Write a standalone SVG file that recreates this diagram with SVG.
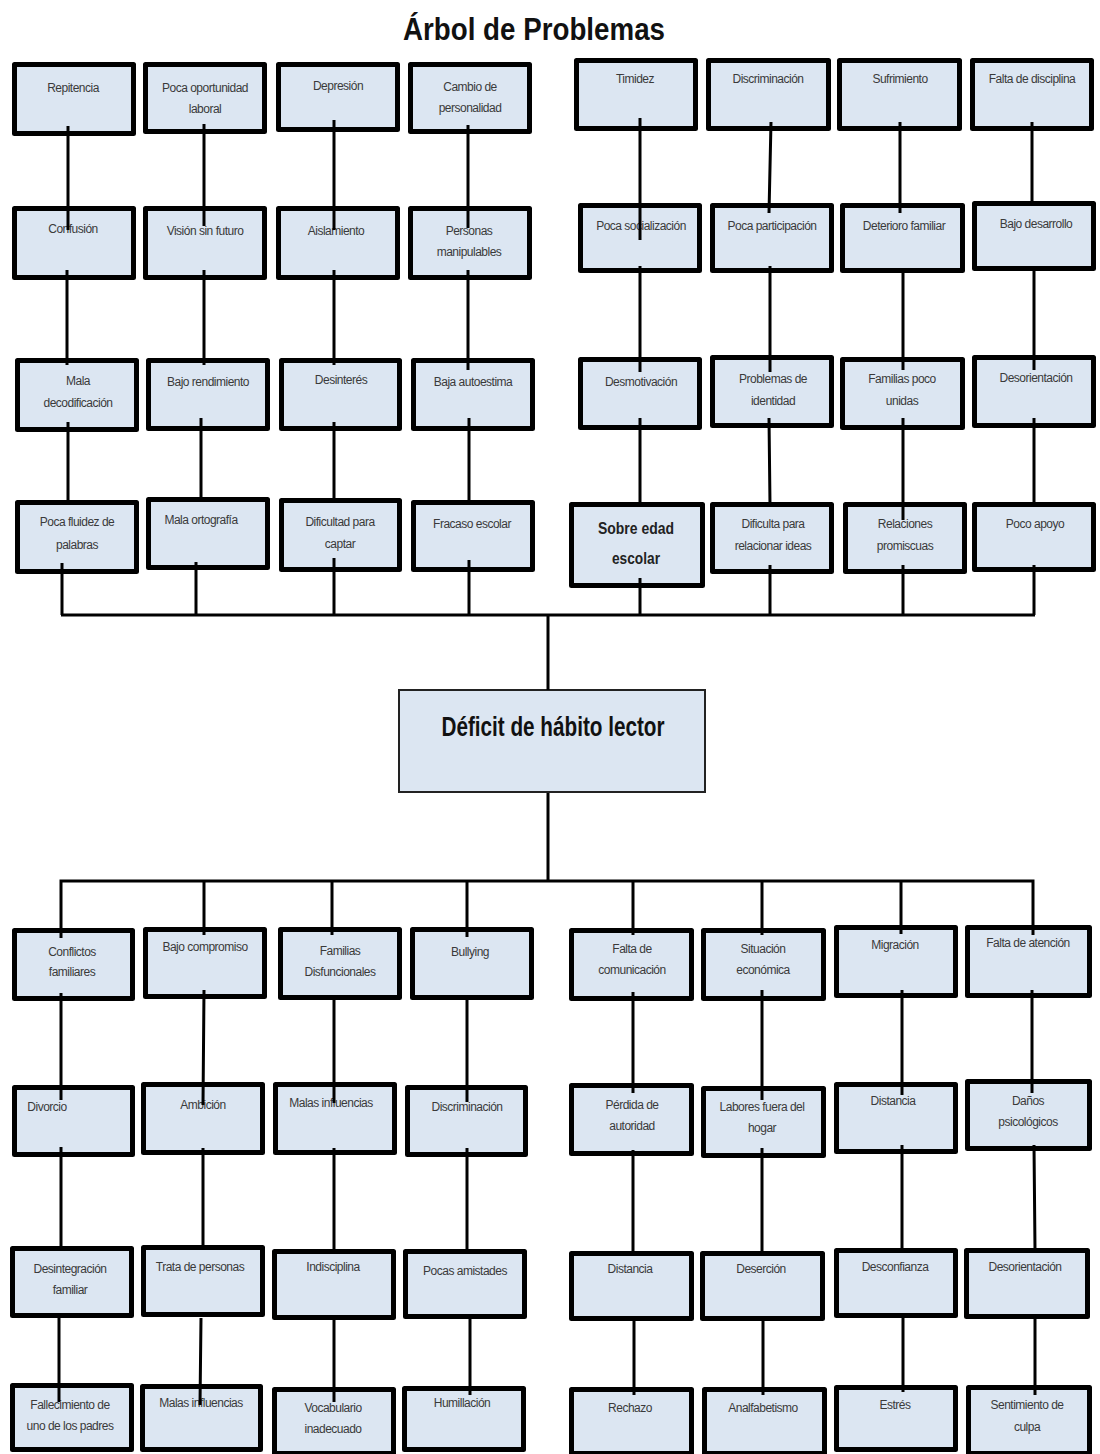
<svg xmlns="http://www.w3.org/2000/svg" width="1100" height="1454" viewBox="0 0 1100 1454">
<style>
.b{fill:#dce6f2;stroke:#000;stroke-width:5;stroke-linejoin:round}
.t{font-family:"Liberation Sans",Arial,sans-serif;font-size:12px;letter-spacing:-0.5px;fill:#3a3a3a;text-anchor:middle}
.c{fill:none;stroke:#000;stroke-width:3}
</style>
<rect width="1100" height="1454" fill="#fff"/>
<text x="534" y="40" font-family="Liberation Sans,Arial,sans-serif" font-weight="bold" font-size="32" textLength="262" lengthAdjust="spacingAndGlyphs" text-anchor="middle" fill="#111">Árbol de Problemas</text>

<g id="nodes-top">
<g id="n1"><rect class="b" x="14.5" y="64.5" width="119" height="69"/><text class="t" x="73" y="92">Repitencia</text></g>
<g id="n2"><rect class="b" x="145.5" y="64.5" width="119" height="67"/><text class="t" x="205" y="92">Poca oportunidad</text><text class="t" x="205" y="113">laboral</text></g>
<g id="n3"><rect class="b" x="278.5" y="64.5" width="119" height="65"/><text class="t" x="338" y="90">Depresión</text></g>
<g id="n4"><rect class="b" x="410.5" y="64.5" width="119" height="67"/><text class="t" x="470" y="91">Cambio de</text><text class="t" x="470" y="112">personalidad</text></g>
<g id="n5"><rect class="b" x="14.5" y="208.5" width="119" height="69"/><text class="t" x="73" y="233">Confusión</text></g>
<g id="n6"><rect class="b" x="145.5" y="208.5" width="119" height="69"/><text class="t" x="205" y="235">Visión sin futuro</text></g>
<g id="n7"><rect class="b" x="278.5" y="208.5" width="119" height="69"/><text class="t" x="336" y="235">Aislamiento</text></g>
<g id="n8"><rect class="b" x="410.5" y="208.5" width="119" height="69"/><text class="t" x="469" y="235">Personas</text><text class="t" x="469" y="256">manipulables</text></g>
<g id="n9"><rect class="b" x="17.5" y="360.5" width="119" height="69"/><text class="t" x="78" y="385">Mala</text><text class="t" x="78" y="407">decodificación</text></g>
<g id="n10"><rect class="b" x="148.5" y="360.5" width="119" height="68"/><text class="t" x="208" y="386">Bajo rendimiento</text></g>
<g id="n11"><rect class="b" x="281.5" y="360.5" width="118" height="68"/><text class="t" x="341" y="384">Desinterés</text></g>
<g id="n12"><rect class="b" x="413.5" y="360.5" width="119" height="68"/><text class="t" x="473" y="386">Baja autoestima</text></g>
<g id="n13"><rect class="b" x="17.5" y="502.5" width="119" height="69"/><text class="t" x="77" y="526">Poca fluidez de</text><text class="t" x="77" y="549">palabras</text></g>
<g id="n14"><rect class="b" x="148.5" y="499.5" width="119" height="68"/><text class="t" x="201" y="524">Mala ortografía</text></g>
<g id="n15"><rect class="b" x="281.5" y="500.5" width="118" height="69"/><text class="t" x="340" y="526">Dificultad para</text><text class="t" x="340" y="548">captar</text></g>
<g id="n16"><rect class="b" x="413.5" y="502.5" width="119" height="67"/><text class="t" x="472" y="528">Fracaso escolar</text></g>

<g id="n17"><rect class="b" x="576.5" y="60.5" width="119" height="68"/><text class="t" x="635" y="83">Timidez</text></g>
<g id="n18"><rect class="b" x="708.5" y="60.5" width="120" height="68"/><text class="t" x="768" y="83">Discriminación</text></g>
<g id="n19"><rect class="b" x="839.5" y="60.5" width="120" height="68"/><text class="t" x="900" y="83">Sufrimiento</text></g>
<g id="n20"><rect class="b" x="972.5" y="60.5" width="119" height="68"/><text class="t" x="1032" y="83">Falta de disciplina</text></g>
<g id="n21"><rect class="b" x="580.5" y="205.5" width="119" height="65"/><text class="t" x="641" y="230">Poca socialización</text></g>
<g id="n22"><rect class="b" x="712.5" y="205.5" width="119" height="65"/><text class="t" x="772" y="230">Poca participación</text></g>
<g id="n23"><rect class="b" x="842.5" y="205.5" width="120" height="65"/><text class="t" x="904" y="230">Deterioro familiar</text></g>
<g id="n24"><rect class="b" x="974.5" y="203.5" width="119" height="65"/><text class="t" x="1036" y="228">Bajo desarrollo</text></g>
<g id="n25"><rect class="b" x="580.5" y="359.5" width="119" height="68"/><text class="t" x="641" y="386">Desmotivación</text></g>
<g id="n26"><rect class="b" x="712.5" y="357.5" width="119" height="68"/><text class="t" x="773" y="383">Problemas de</text><text class="t" x="773" y="405">identidad</text></g>
<g id="n27"><rect class="b" x="842.5" y="359.5" width="120" height="68"/><text class="t" x="902" y="383">Familias poco</text><text class="t" x="902" y="405">unidas</text></g>
<g id="n28"><rect class="b" x="974.5" y="357.5" width="119" height="68"/><text class="t" x="1036" y="382">Desorientación</text></g>
<g id="n29"><rect class="b" x="571.5" y="504.5" width="131" height="81"/><text x="636" y="534" font-family="Liberation Sans,Arial,sans-serif" font-weight="bold" font-size="17" textLength="76" lengthAdjust="spacingAndGlyphs" text-anchor="middle" fill="#222">Sobre edad</text><text x="636" y="564" font-family="Liberation Sans,Arial,sans-serif" font-weight="bold" font-size="17" textLength="48" lengthAdjust="spacingAndGlyphs" text-anchor="middle" fill="#222">escolar</text></g>
<g id="n30"><rect class="b" x="712.5" y="504.5" width="119" height="67"/><text class="t" x="773" y="528">Dificulta para</text><text class="t" x="773" y="550">relacionar ideas</text></g>
<g id="n31"><rect class="b" x="845.5" y="504.5" width="119" height="67"/><text class="t" x="905" y="528">Relaciones</text><text class="t" x="905" y="550">promiscuas</text></g>
<g id="n32"><rect class="b" x="974.5" y="504.5" width="119" height="65"/><text class="t" x="1035" y="528">Poco apoyo</text></g>
</g>

<g id="center">
<rect x="399" y="690" width="306" height="102" fill="#dce6f2" stroke="#222" stroke-width="2"/>
<text x="553" y="736" font-family="Liberation Sans,Arial,sans-serif" font-weight="bold" font-size="27" textLength="223" lengthAdjust="spacingAndGlyphs" text-anchor="middle" fill="#111">Déficit de hábito lector</text>
</g>

<g id="nodes-bottom">
<g id="b1"><rect class="b" x="14.5" y="930.5" width="118" height="68"/><text class="t" x="72" y="956">Conflictos</text><text class="t" x="72" y="976">familiares</text></g>
<g id="b2"><rect class="b" x="145.5" y="929.5" width="119" height="67"/><text class="t" x="205" y="951">Bajo compromiso</text></g>
<g id="b3"><rect class="b" x="280.5" y="929.5" width="119" height="68"/><text class="t" x="340" y="955">Familias</text><text class="t" x="340" y="976">Disfuncionales</text></g>
<g id="b4"><rect class="b" x="412.5" y="929.5" width="119" height="68"/><text class="t" x="470" y="956">Bullying</text></g>
<g id="b5"><rect class="b" x="571.5" y="930.5" width="120" height="68"/><text class="t" x="632" y="953">Falta de</text><text class="t" x="632" y="974">comunicación</text></g>
<g id="b6"><rect class="b" x="703.5" y="930.5" width="120" height="68"/><text class="t" x="763" y="953">Situación</text><text class="t" x="763" y="974">económica</text></g>
<g id="b7"><rect class="b" x="836.5" y="927.5" width="119" height="68"/><text class="t" x="895" y="949">Migración</text></g>
<g id="b8"><rect class="b" x="967.5" y="927.5" width="122" height="68"/><text class="t" x="1028" y="947">Falta de atención</text></g>
<g id="b9"><rect class="b" x="14.5" y="1087.5" width="118" height="67"/><text class="t" x="47" y="1111">Divorcio</text></g>
<g id="b10"><rect class="b" x="143.5" y="1084.5" width="119" height="68"/><text class="t" x="203" y="1109">Ambición</text></g>
<g id="b11"><rect class="b" x="275.5" y="1084.5" width="119" height="68"/><text class="t" x="331" y="1107">Malas influencias</text></g>
<g id="b12"><rect class="b" x="407.5" y="1087.5" width="118" height="67"/><text class="t" x="467" y="1111">Discriminación</text></g>
<g id="b13"><rect class="b" x="571.5" y="1085.5" width="120" height="68"/><text class="t" x="632" y="1109">Pérdida de</text><text class="t" x="632" y="1130">autoridad</text></g>
<g id="b14"><rect class="b" x="703.5" y="1088.5" width="120" height="67"/><text class="t" x="762" y="1111">Labores fuera del</text><text class="t" x="762" y="1132">hogar</text></g>
<g id="b15"><rect class="b" x="836.5" y="1084.5" width="119" height="67"/><text class="t" x="893" y="1105">Distancia</text></g>
<g id="b16"><rect class="b" x="967.5" y="1081.5" width="122" height="67"/><text class="t" x="1028" y="1105">Daños</text><text class="t" x="1028" y="1126">psicológicos</text></g>
<g id="b17"><rect class="b" x="12.5" y="1248.5" width="119" height="67"/><text class="t" x="70" y="1273">Desintegración</text><text class="t" x="70" y="1294">familiar</text></g>
<g id="b18"><rect class="b" x="143.5" y="1247.5" width="119" height="67"/><text class="t" x="200" y="1271">Trata de personas</text></g>
<g id="b19"><rect class="b" x="274.5" y="1251.5" width="119" height="66"/><text class="t" x="333" y="1271">Indisciplina</text></g>
<g id="b20"><rect class="b" x="405.5" y="1251.5" width="119" height="65"/><text class="t" x="465" y="1275">Pocas amistades</text></g>
<g id="b21"><rect class="b" x="571.5" y="1253.5" width="120" height="65"/><text class="t" x="630" y="1273">Distancia</text></g>
<g id="b22"><rect class="b" x="702.5" y="1253.5" width="120" height="65"/><text class="t" x="761" y="1273">Deserción</text></g>
<g id="b23"><rect class="b" x="836.5" y="1250.5" width="119" height="65"/><text class="t" x="895" y="1271">Desconfianza</text></g>
<g id="b24"><rect class="b" x="966.5" y="1250.5" width="121" height="66"/><text class="t" x="1025" y="1271">Desorientación</text></g>
<g id="b25"><rect class="b" x="12.5" y="1385.5" width="119" height="64"/><text class="t" x="70" y="1409">Fallecimiento de</text><text class="t" x="70" y="1430">uno de los padres</text></g>
<g id="b26"><rect class="b" x="142.5" y="1386.5" width="118" height="63"/><text class="t" x="201" y="1407">Malas influencias</text></g>
<g id="b27"><rect class="b" x="274.5" y="1389.5" width="119" height="64"/><text class="t" x="333" y="1412">Vocabulario</text><text class="t" x="333" y="1433">inadecuado</text></g>
<g id="b28"><rect class="b" x="404.5" y="1388.5" width="119" height="61"/><text class="t" x="462" y="1407">Humillación</text></g>
<g id="b29"><rect class="b" x="571.5" y="1389.5" width="120" height="64"/><text class="t" x="630" y="1412">Rechazo</text></g>
<g id="b30"><rect class="b" x="704.5" y="1389.5" width="120" height="64"/><text class="t" x="763" y="1412">Analfabetismo</text></g>
<g id="b31"><rect class="b" x="836.5" y="1387.5" width="119" height="62"/><text class="t" x="895" y="1409">Estrés</text></g>
<g id="b32"><rect class="b" x="968.5" y="1387.5" width="121" height="66"/><text class="t" x="1027" y="1409">Sentimiento de</text><text class="t" x="1027" y="1431">culpa</text></g>
</g>

<g id="connectors">
<path class="c" d="M68 126V230M67 270V365M68 422V504M62 563V615"/>
<path class="c" d="M204 124V226M204 270V365M201 418V502M196 562V615"/>
<path class="c" d="M334 120V230M334 270V365M334 422V502M334 558V615"/>
<path class="c" d="M468 125V228M468 270V370M469 418V502M469 560V615"/>
<path class="c" d="M640 118V240M640 266V372M640 418V505M640 578V615"/>
<path class="c" d="M771 122L769 213M770 266V372M769 418L770 505M770 565V615"/>
<path class="c" d="M900 122V213M903 268V370M903 418V520M903 565V615"/>
<path class="c" d="M1032 122V205M1034 268V370M1034 418V505M1034 565V615"/>
<path class="c" d="M61 615H1035M548 615V690"/>
<path class="c" d="M548 793V881M61 938V881H1033V935M204 881V935M332 881V935M467 881V937M633 881V935M762 881V935M901 881V934"/>
<path class="c" d="M61 993V1100M61 1147V1250M59 1318V1402"/>
<path class="c" d="M204 990L203 1105M203 1148V1250M201 1318L200 1405"/>
<path class="c" d="M334 995V1103M334 1148V1252M334 1320V1402"/>
<path class="c" d="M467 995V1102M467 1148V1252M470 1318V1395"/>
<path class="c" d="M633 992V1093M633 1150V1253M634 1320V1395"/>
<path class="c" d="M762 990V1100M762 1148V1253M763 1320V1395"/>
<path class="c" d="M902 990V1095M902 1145V1250M903 1318V1392"/>
<path class="c" d="M1032 990V1093M1034 1145L1035 1250M1035 1318V1395"/>
</g>
</svg>
